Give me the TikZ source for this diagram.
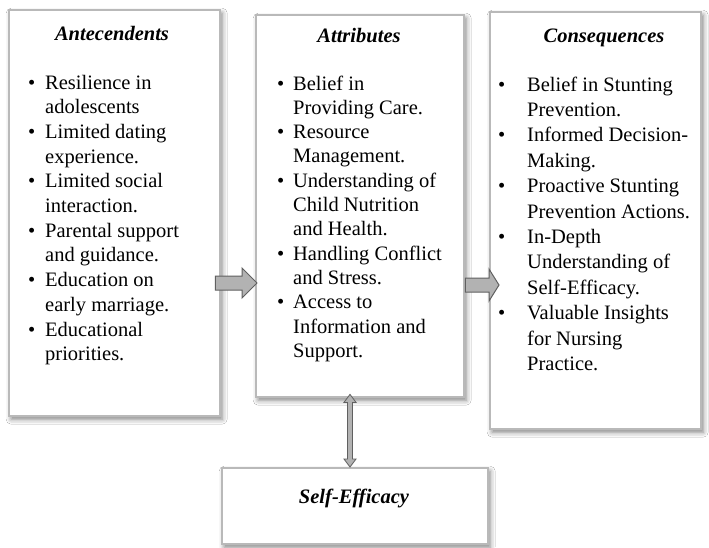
\documentclass[tikz,border=0pt]{standalone}
\usepackage{fontspec}
\setmainfont{Liberation Serif}
\usetikzlibrary{shadows.blur,calc}
\newcommand\bul[1]{\makebox[#1][l]{\textbullet}}
\begin{document}
\begin{tikzpicture}[x=1pt,y=-1pt,
  box/.style={draw=gray!55, line width=2.4pt, fill=white, inner sep=0pt, anchor=north west,
    blur shadow={shadow xshift=2pt,shadow yshift=-3pt,shadow blur radius=5pt,shadow opacity=50}},
  head/.style={font=\fontsize{20.5}{24.7}\selectfont\bfseries\itshape, inner sep=0pt, anchor=base},
  list/.style={inner sep=0pt, anchor=base west},
  blockarrow/.style={fill=gray!60, draw=gray!75!black, line width=1pt, line join=miter}
]
\fill[white] (0,0) rectangle (709,547);
\useasboundingbox (0,0) rectangle (709,547);

% boxes
\node[box, minimum width=211pt, minimum height=406pt] (b1) at (8,9) {};
\node[box, minimum width=208pt, minimum height=382pt] (b2) at (255,14) {};
\node[box, minimum width=211pt, minimum height=417pt] (b3) at (489,11) {};
\node[box, minimum width=266pt, minimum height=76pt] (b4) at (221,467) {};

% headings
\node[head] (h1) at (112,40) {Antecendents};
\node[head] (h2) at (359,42) {Attributes};
\node[head] (h3) at (604,42) {Consequences};
\node[head] (h4) at (354,503) {Self-Efficacy};

% lists
\node[list, font=\fontsize{20.5}{24.7}\selectfont] (l1) at (28,89) {%
\begin{tabular}[t]{@{}l@{}l@{}}
\bul{17pt} & Resilience in\\
 & adolescents\\
\bul{17pt} & Limited dating\\
 & experience.\\
\bul{17pt} & Limited social\\
 & interaction.\\
\bul{17pt} & Parental support\\
 & and guidance.\\
\bul{17pt} & Education on\\
 & early marriage.\\
\bul{17pt} & Educational\\
 & priorities.
\end{tabular}};

\node[list, font=\fontsize{20.5}{24.3}\selectfont] (l2) at (277,90) {%
\begin{tabular}[t]{@{}l@{}l@{}}
\bul{16pt} & Belief in\\
 & Providing Care.\\
\bul{16pt} & Resource\\
 & Management.\\
\bul{16pt} & Understanding of\\
 & Child Nutrition\\
 & and Health.\\
\bul{16pt} & Handling Conflict\\
 & and Stress.\\
\bul{16pt} & Access to\\
 & Information and\\
 & Support.
\end{tabular}};

\node[list, font=\fontsize{20.5}{25.4}\selectfont] (l3) at (498,91) {%
\begin{tabular}[t]{@{}l@{}l@{}}
\bul{29pt} & Belief in Stunting\\
 & Prevention.\\
\bul{29pt} & Informed Decision-\\
 & Making.\\
\bul{29pt} & Proactive Stunting\\
 & Prevention Actions.\\
\bul{29pt} & In-Depth\\
 & Understanding of\\
 & Self-Efficacy.\\
\bul{29pt} & Valuable Insights\\
 & for Nursing\\
 & Practice.
\end{tabular}};

% block arrows
\coordinate (y1) at (0,283);
\coordinate (y2) at (0,285);
\coordinate (a1t) at ($(b1.east |- y1)+(-6,0)$);
\coordinate (a1h) at ($(b2.west |- y1)+(2,0)$);
\coordinate (a2t) at (b2.east |- y2);
\coordinate (a2h) at ($(b3.west |- y2)+(10,0)$);
\draw[blockarrow] ($(a1t)+(0,-7)$) -- ($(a1h)+(-15,-7)$) -- ($(a1h)+(-15,-15)$) -- (a1h)
  -- ($(a1h)+(-15,15)$) -- ($(a1h)+(-15,7)$) -- ($(a1t)+(0,7)$) -- cycle;
\draw[blockarrow] ($(a2t)+(0,-7)$) -- ($(a2h)+(-10,-7)$) -- ($(a2h)+(-10,-16)$) -- (a2h)
  -- ($(a2h)+(-10,16)$) -- ($(a2h)+(-10,7)$) -- ($(a2t)+(0,7)$) -- cycle;

% vertical double arrow
\coordinate (vx) at (350,0);
\coordinate (vt) at ($(vx |- b2.south)+(0,-4)$);
\coordinate (vb) at (vx |- b4.north);
\draw[blockarrow, line width=0.8pt] (vt) -- ($(vt)+(6,8)$) -- ($(vt)+(2.5,8)$) -- ($(vb)+(2.5,-8)$) -- ($(vb)+(6,-8)$)
  -- (vb) -- ($(vb)+(-6,-8)$) -- ($(vb)+(-2.5,-8)$) -- ($(vt)+(-2.5,8)$) -- ($(vt)+(-6,8)$) -- cycle;
\end{tikzpicture}
\end{document}
